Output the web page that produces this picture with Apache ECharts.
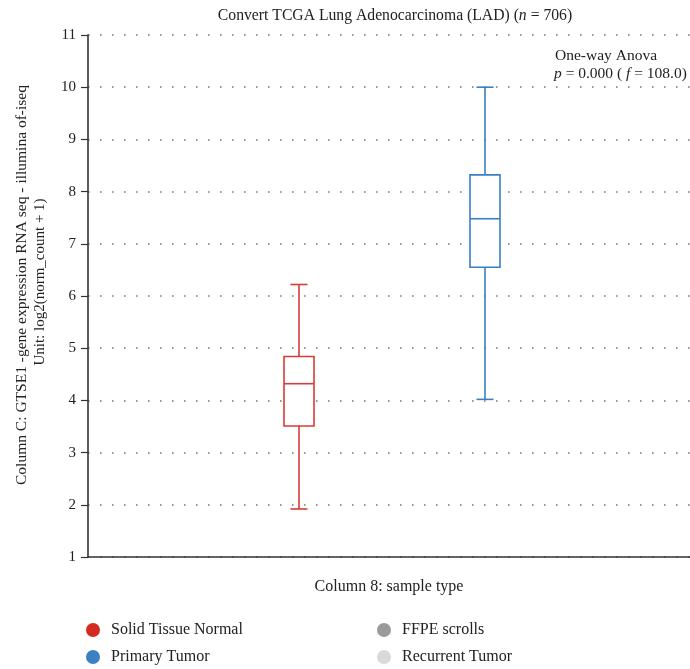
<!DOCTYPE html>
<html>
<head>
<meta charset="utf-8">
<script src="https://cdn.jsdelivr.net/npm/echarts@6/dist/echarts.min.js"></script>
<style>
  html, body { margin: 0; padding: 0; background: #fff; }
  #chart { width: 690px; height: 669px; }
</style>
</head>
<body>
<div id="chart"></div>
<script>
// data
const categories = ['Solid Tissue Normal', 'Primary Tumor'];
const lowWhisker = [1.92, 4.02];
const lowerQuartile = [3.51, 6.55];
const medians = [4.32, 7.48];
const upperQuartile = [4.84, 8.32];
const highWhisker = [6.22, 10.0];
const boxColors = ['#d93b36', '#3a80c2'];

const legendNames = ['Solid Tissue Normal', 'Primary Tumor', 'FFPE scrolls', 'Recurrent Tumor'];
const legendColors = ['#d42b20', '#3a80c2', '#9a9a9a', '#d9d9d9'];

const yTicks = { min: 1, max: 11, interval: 1 };

const FONT = '"Liberation Serif", "DejaVu Serif", serif';

const chart = echarts.init(document.getElementById('chart'));

// draws one box: whiskers, caps, box and median
const renderBox = (params, api) => {
  const i = api.value(0);
  const x = api.coord([i, 0])[0];
  const yLow = api.coord([i, api.value(1)])[1];
  const yQ1 = api.coord([i, api.value(2)])[1];
  const yMed = api.coord([i, api.value(3)])[1];
  const yQ3 = api.coord([i, api.value(4)])[1];
  const yHigh = api.coord([i, api.value(5)])[1];
  const halfBox = 15;
  const halfCap = 8.5;
  const color = api.visual('color');
  const style = { stroke: color, lineWidth: 1.6, fill: null };
  return {
    type: 'group',
    children: [
      { type: 'line', shape: { x1: x, y1: yHigh, x2: x, y2: yQ3 }, style },
      { type: 'line', shape: { x1: x, y1: yQ1, x2: x, y2: yLow }, style },
      { type: 'line', shape: { x1: x - halfCap, y1: yHigh, x2: x + halfCap, y2: yHigh }, style },
      { type: 'line', shape: { x1: x - halfCap, y1: yLow, x2: x + halfCap, y2: yLow }, style },
      { type: 'rect', shape: { x: x - halfBox, y: yQ3, width: halfBox * 2, height: yQ1 - yQ3 }, style: { stroke: color, lineWidth: 1.6, fill: '#fff' } },
      { type: 'line', shape: { x1: x - halfBox, y1: yMed, x2: x + halfBox, y2: yMed }, style }
    ]
  };
};

const boxSeries = categories.map((name, i) => ({
  name,
  type: 'custom',
  xAxisIndex: 1,
  yAxisIndex: 1,
  itemStyle: { color: boxColors[i] },
  renderItem: renderBox,
  encode: { x: 0, y: [1, 2, 3, 4, 5] },
  data: [[i, lowWhisker[i], lowerQuartile[i], medians[i], upperQuartile[i], highWhisker[i]]]
}));

// groups with no samples shown, only in the legend
const emptySeries = legendNames.slice(2).map((name, k) => ({
  name,
  type: 'custom',
  xAxisIndex: 1,
  yAxisIndex: 1,
  itemStyle: { color: legendColors[k + 2] },
  renderItem: () => null,
  data: []
}));

const legendItem = (name) => ({
  name,
  itemStyle: { color: legendColors[legendNames.indexOf(name)] }
});

const legendBase = {
  orient: 'vertical',
  top: 622,
  height: 60,
  padding: 0,
  icon: 'circle',
  itemWidth: 14,
  itemHeight: 14,
  itemGap: 11,
  selectedMode: false,
  textStyle: { fontFamily: FONT, fontSize: 16, lineHeight: 14, color: '#222', padding: [0, 0, 0, 6] }
};

chart.setOption({
  animation: false,
  textStyle: { fontFamily: FONT },
  title: {
    text: '{a|Convert TCGA Lung Adenocarcinoma (LAD) (}{i|n}{a| = 706)}',
    left: 390,
    textAlign: 'center',
    top: 3,
    textStyle: {
      fontWeight: 'normal',
      rich: {
        a: { fontFamily: FONT, fontSize: 15.7, fontWeight: 'normal', color: '#222' },
        i: { fontFamily: FONT, fontSize: 15.7, fontWeight: 'normal', color: '#222', fontStyle: 'italic' }
      }
    }
  },
  legend: [
    Object.assign({}, legendBase, { left: 86, data: ['Solid Tissue Normal', 'Primary Tumor'].map(legendItem) }),
    Object.assign({}, legendBase, { left: 377, data: ['FFPE scrolls', 'Recurrent Tumor'].map(legendItem) })
  ],
  grid: [
    { left: 88, right: 0, top: 35, bottom: 112 },
    { left: 206, right: 112, top: 35, bottom: 112 }
  ],
  xAxis: [
    {
      gridIndex: 0,
      type: 'category',
      data: [''],
      name: 'Column 8: sample type',
      nameLocation: 'middle',
      nameGap: 22,
      nameTextStyle: { fontFamily: FONT, fontSize: 16, color: '#222' },
      axisLine: { lineStyle: { color: '#333', width: 1.6 } },
      axisTick: { show: false },
      axisLabel: { show: false }
    },
    {
      gridIndex: 1,
      type: 'category',
      data: categories,
      show: false
    }
  ],
  yAxis: [
    {
      gridIndex: 0,
      type: 'value',
      min: yTicks.min,
      max: yTicks.max,
      interval: yTicks.interval,
      axisLine: { show: true, lineStyle: { color: '#333', width: 1.6 } },
      axisTick: { show: true, length: 7, lineStyle: { color: '#333', width: 1.2 } },
      axisLabel: { fontFamily: FONT, fontSize: 15, color: '#222', margin: 12 },
      splitLine: {
        show: true,
        lineStyle: { color: '#7a7a7a', width: 1.5, type: [1.6, 10.4] }
      }
    },
    {
      gridIndex: 1,
      type: 'value',
      min: yTicks.min,
      max: yTicks.max,
      show: false,
      splitLine: { show: false }
    }
  ],
  graphic: [
    {
      type: 'text',
      x: 22,
      y: 285,
      rotation: Math.PI / 2,
      style: {
        text: 'Column C: GTSE1 -gene expression RNA seq - illumina of-iseq',
        font: '15.5px ' + FONT,
        fill: '#222',
        align: 'center',
        verticalAlign: 'middle'
      }
    },
    {
      type: 'text',
      x: 40,
      y: 282,
      rotation: Math.PI / 2,
      style: {
        text: 'Unit: log2(norm_count + 1)',
        font: '15px ' + FONT,
        fill: '#222',
        align: 'center',
        verticalAlign: 'middle'
      }
    },
    {
      type: 'text',
      x: 555,
      y: 56,
      style: {
        text: 'One-way Anova',
        font: '15.5px ' + FONT,
        fill: '#222',
        verticalAlign: 'middle'
      }
    },
    {
      type: 'text',
      x: 554,
      y: 74,
      style: {
        text: '{i|p}{a| = 0.000 ( }{i|f}{a| = 108.0)}',
        verticalAlign: 'middle',
        rich: {
          a: { fontFamily: FONT, fontSize: 15.5, fill: '#222' },
          i: { fontFamily: FONT, fontSize: 15.5, fill: '#222', fontStyle: 'italic' }
        }
      }
    }
  ],
  series: boxSeries.concat(emptySeries)
});
</script>
</body>
</html>
